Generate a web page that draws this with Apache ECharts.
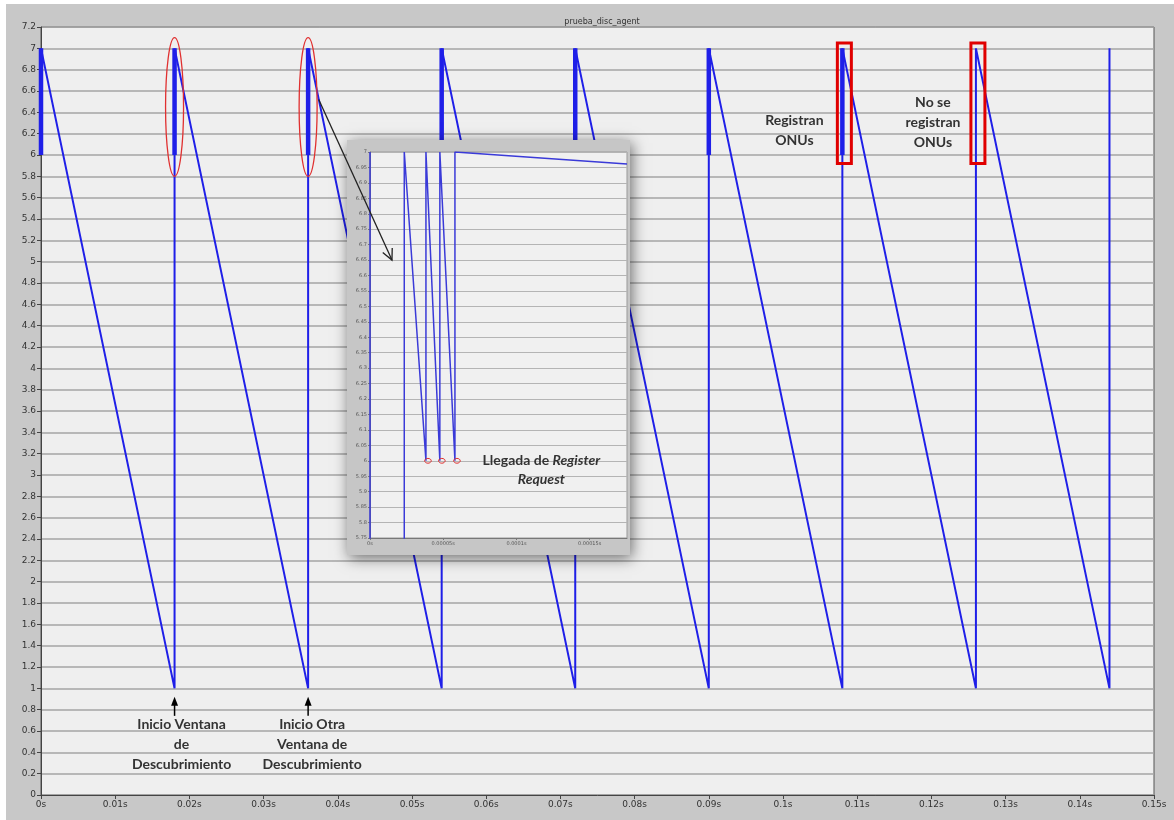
<!DOCTYPE html>
<html><head><meta charset="utf-8">
<script src="https://cdn.jsdelivr.net/npm/echarts@6/dist/echarts.min.js"></script>
<style>
html,body{margin:0;padding:0;background:#fff;}
#bg{position:absolute;left:6px;top:4px;width:1168px;height:816px;background:#c8c8c8;}
#c{position:absolute;left:0;top:0;width:1174px;height:820px;}
</style>
</head><body><div id="bg"></div><div id="c"></div>
<script>
// ---- data ----
const titleText = 'prueba_disc_agent';
const mainTimes  = [0, 0.018, 0.018, 0.036, 0.036, 0.054, 0.054, 0.072, 0.072, 0.09, 0.09, 0.108, 0.108, 0.126, 0.126, 0.144, 0.144];
const mainValues = [7, 1,     7,     1,     7,     1,     7,     1,     7,     1,    7,    1,     7,     1,     7,     1,     7];
const regTimes = [0, 0.018, 0.036, 0.054, 0.072, 0.09, 0.108];
const regLow = 6;
const regHigh = 7;
const xTickLabels = ['0s','0.01s','0.02s','0.03s','0.04s','0.05s','0.06s','0.07s','0.08s','0.09s','0.1s','0.11s','0.12s','0.13s','0.14s','0.15s'];
const insetTimes  = [0, 0, null, 0.0000234, 0.0000234, 0.0000382, 0.0000382, 0.0000477, 0.0000477, 0.000058, 0.000058, 0.0001755];
const insetValues = [5.5, 7, null, 1, 7, 6, 7, 6, 7, 6, 7, 6.961];
const insetCircleTimes = [0.0000382, 0.0000477, 0.000058];
const insetCircleValue = 6;
const insetXTickLabels = ['0s','0.00005s','0.0001s','0.00015s'];

const mainData = mainTimes.map((t, i) => [t, mainValues[i]]);
const regData = [];
regTimes.forEach(t => { regData.push([t, regLow], [t, regHigh], ['-', '-']); });
const insetData = insetTimes.map((t, i) => t === null ? ['-', '-'] : [t, insetValues[i]]);

const chart = echarts.init(document.getElementById('c'), null, {renderer: 'canvas'});
const axisFont = {fontFamily: 'DejaVu Sans', fontSize: 9, color: '#333'};
const insetFont = {fontFamily: 'DejaVu Sans', fontSize: 5, color: '#555'};

chart.setOption({
  backgroundColor: 'transparent',
  animation: false,
  title: {text: titleText, left: 597, top: 13, textAlign: 'center',
    textStyle: {fontFamily: 'DejaVu Sans', fontSize: 8, fontWeight: 'normal', color: '#333'}},
  grid: [
    {left: 41, right: 20, top: 27, bottom: 25, show: true, backgroundColor: '#efefef', borderColor: '#555', borderWidth: 1, z: 0},
    {left: 370, top: 152, width: 257, height: 386, show: true, backgroundColor: '#f0f0f0', borderColor: '#999', borderWidth: 1, z: 11}
  ],
  xAxis: [
    {type: 'value', gridIndex: 0, min: 0, max: 0.15, interval: 0.01,
      axisLine: {show: true, lineStyle: {color: '#444', width: 1}},
      axisTick: {show: true, length: 4, lineStyle: {color: '#444'}},
      splitLine: {show: false},
      axisLabel: Object.assign({margin: 5, formatter: v => xTickLabels[Math.round(v / 0.01)] || ''}, axisFont)},
    {type: 'value', gridIndex: 1, min: 0, max: 0.0001755, interval: 0.00005, z: 12,
      axisLine: {show: true, lineStyle: {color: '#777', width: 1}},
      axisTick: {show: true, length: 2, lineStyle: {color: '#777'}},
      splitLine: {show: false},
      axisLabel: Object.assign({margin: 3, showMaxLabel: false, formatter: v => {
        const i = Math.round(v / 0.00005);
        return Math.abs(v - i * 0.00005) < 1e-9 ? (insetXTickLabels[i] || '') : '';
      }}, insetFont)}
  ],
  yAxis: [
    {type: 'value', gridIndex: 0, min: 0, max: 7.2, interval: 0.2,
      axisLine: {show: true, lineStyle: {color: '#444', width: 1}},
      axisTick: {show: true, length: 4, lineStyle: {color: '#444'}},
      splitLine: {show: true, lineStyle: {color: '#a4a4a4', width: 1.5}},
      axisLabel: Object.assign({margin: 5, formatter: v => String(+v.toFixed(1))}, axisFont)},
    {type: 'value', gridIndex: 1, min: 5.75, max: 7, interval: 0.05, z: 12,
      axisLine: {show: true, lineStyle: {color: '#777', width: 1}},
      axisTick: {show: true, length: 2, lineStyle: {color: '#777'}},
      splitLine: {show: true, lineStyle: {color: '#b4b4b4', width: 1}},
      axisLabel: Object.assign({margin: 3, formatter: v => String(+v.toFixed(2))}, insetFont)}
  ],
  series: [
    {type: 'line', xAxisIndex: 0, yAxisIndex: 0, data: mainData, showSymbol: false, z: 2,
      lineStyle: {color: '#1f1fe8', width: 2}},
    {type: 'line', xAxisIndex: 0, yAxisIndex: 0, data: regData, showSymbol: false, connectNulls: false, z: 3,
      lineStyle: {color: '#1f1fe8', width: 4.5}},
    {type: 'line', xAxisIndex: 1, yAxisIndex: 1, data: insetData, showSymbol: false, connectNulls: false, z: 13,
      clip: true, lineStyle: {color: '#3a3ad8', width: 1.5}}
  ]
});

function P0(x, y) { return chart.convertToPixel({xAxisIndex: 0, yAxisIndex: 0}, [x, y]); }
function P1(x, y) { return chart.convertToPixel({xAxisIndex: 1, yAxisIndex: 1}, [x, y]); }

const g = [];
const calibri = 'Lato, "Open Sans", sans-serif';
// inset frame with shadow
g.push({type: 'rect', z: 10, shape: {x: 347, y: 140, width: 283, height: 415},
  style: {fill: '#c6c6c6', shadowBlur: 14, shadowOffsetX: 2, shadowOffsetY: 3, shadowColor: 'rgba(0,0,0,0.55)'}});

// red ellipses at two window starts
[0.018, 0.036].forEach(t => {
  const top = P0(t, 7.1), bot = P0(t, 5.8);
  g.push({type: 'ellipse', z: 5, shape: {cx: top[0], cy: (top[1] + bot[1]) / 2, rx: 9, ry: (bot[1] - top[1]) / 2},
    style: {fill: null, stroke: '#e03030', lineWidth: 1.3}});
});
// red rectangles
[0.108, 0.126].forEach(t => {
  const top = P0(t, 7.05), bot = P0(t, 5.92);
  g.push({type: 'rect', z: 5, shape: {x: top[0] - 5, y: top[1], width: 14, height: bot[1] - top[1]},
    style: {fill: null, stroke: '#e00000', lineWidth: 3}});
});
// text labels near rectangles
const r1 = P0(0.108, 6.45);
g.push({type: 'text', z: 6, style: {x: r1[0] - 48, y: r1[1] + 3, text: 'Registran\nONUs', textAlign: 'center', textVerticalAlign: 'top',
  font: 'bold 14px ' + calibri, lineHeight: 20, fill: '#333'}});
const r2 = P0(0.126, 6.45);
g.push({type: 'text', z: 6, style: {x: r2[0] - 43, y: r2[1] - 15, text: 'No se\nregistran\nONUs', textAlign: 'center', textVerticalAlign: 'top',
  font: 'bold 14px ' + calibri, lineHeight: 20, fill: '#333'}});

// bottom arrows and captions
[[0.018, 'Inicio Ventana\nde\nDescubrimiento', 7], [0.036, 'Inicio Otra\nVentana de\nDescubrimiento', 4]].forEach(([t, txt, dx]) => {
  const tip = P0(t, 0.92);
  const x = tip[0];
  g.push({type: 'polyline', z: 6, shape: {points: [[x, tip[1] + 7], [x, tip[1] + 19]]}, style: {stroke: '#000', lineWidth: 1.5}});
  g.push({type: 'polygon', z: 6, shape: {points: [[x, tip[1]], [x - 3.5, tip[1] + 9], [x + 3.5, tip[1] + 9]]}, style: {fill: '#000'}});
  g.push({type: 'text', z: 6, style: {x: x + dx, y: tip[1] + 18, text: txt, textAlign: 'center', textVerticalAlign: 'top',
    font: 'bold 14px ' + calibri, lineHeight: 20, fill: '#333'}});
});

// inset circles
insetCircleTimes.forEach(t => {
  const p = P1(t, insetCircleValue);
  g.push({type: 'ellipse', z: 14, shape: {cx: p[0] + 2, cy: p[1], rx: 3.3, ry: 2.4}, style: {fill: null, stroke: '#e03030', lineWidth: 1}});
});
// inset caption
const cp = P1(0.000117, 6.0);
g.push({type: 'text', z: 14, style: {x: cp[0], y: cp[1] - 10,
  text: '{b|Llegada de }{bi|Register}\n{bi|Request}', textAlign: 'center', textVerticalAlign: 'top',
  rich: {b: {font: 'bold 14px ' + calibri, fill: '#333', lineHeight: 19},
         bi: {font: 'italic bold 14px ' + calibri, fill: '#333', lineHeight: 19}}}});

// arrow from ellipse into inset
const a0 = P0(0.03743, 6.52), a1 = P1(0.000015, 6.65);
const dx = a1[0] - a0[0], dy = a1[1] - a0[1], len = Math.hypot(dx, dy);
const ux = dx / len, uy = dy / len;
function rot(ang) { const c = Math.cos(ang), s = Math.sin(ang); return [ux * c - uy * s, ux * s + uy * c]; }
const h1 = rot(0.45), h2 = rot(-0.45), hl = 12;
g.push({type: 'polyline', z: 20, shape: {points: [a0, a1]}, style: {stroke: '#222', lineWidth: 1.3}});
g.push({type: 'polyline', z: 20, shape: {points: [[a1[0] - hl * h1[0], a1[1] - hl * h1[1]], a1, [a1[0] - hl * h2[0], a1[1] - hl * h2[1]]]},
  style: {stroke: '#222', lineWidth: 1.3, fill: null}});

chart.setOption({graphic: {elements: g}});
</script>
</body></html>
